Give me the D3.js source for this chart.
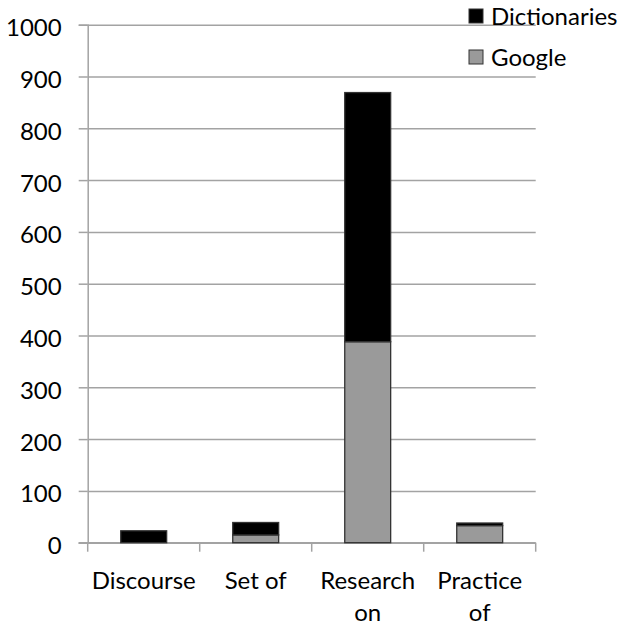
<!DOCTYPE html>
<html>
<head>
<meta charset="utf-8">
<script src="https://cdn.jsdelivr.net/npm/d3@7"></script>
<style>
  html, body { margin: 0; padding: 0; background: #fff; }
  svg { display: block; }
  text { font-family: Lato, "Open Sans", sans-serif; fill: #000; }
</style>
</head>
<body>
<svg id="chart" width="625" height="627"></svg>
<script>
// Stacked bar data: Google at the bottom, Dictionaries on top
const categories = ["Discourse", "Set of", "Research on", "Practice of"];
const google = [0, 15, 388, 33];
const dictionaries = [23, 24, 481, 5];
const seriesKeys = ["Google", "Dictionaries"];
const legendKeys = ["Dictionaries", "Google"];
const yTicks = [0, 100, 200, 300, 400, 500, 600, 700, 800, 900, 1000];

const colors = { Dictionaries: "#000000", Google: "#9a9a9a" };
const fontSize = 24;

const rows = categories.map((c, i) => ({ category: c, Google: google[i], Dictionaries: dictionaries[i] }));

const svg = d3.select("#chart");
const plotLeft = 87.7, plotRight = 535.7, plotTop = 24.7, plotBottom = 542.7;

const y = d3.scaleLinear().domain([0, 1000]).range([plotBottom, plotTop]);
const xSlots = d3.scaleBand().domain(categories).range([plotLeft, plotRight]).padding(0);
const x = d3.scaleBand().domain(categories).range([plotLeft, plotRight])
  .paddingInner(0.59).paddingOuter(0.295);

// Horizontal gridlines
const grid = svg.append("g").attr("transform", `translate(${plotLeft},0)`)
  .call(d3.axisLeft(y).tickValues(yTicks).tickSize(plotLeft - plotRight).tickFormat(""));
grid.select(".domain").remove();
grid.selectAll(".tick line").attr("stroke", "#a3a3a3").attr("stroke-width", 1.5);

// Left axis with short ticks and value labels
const yAxis = svg.append("g").attr("transform", `translate(${plotLeft},0)`)
  .call(d3.axisLeft(y).tickValues(yTicks).tickSize(9).tickPadding(17).tickFormat(d3.format("d")));
yAxis.select(".domain").attr("stroke", "#a3a3a3").attr("stroke-width", 1.5);
yAxis.selectAll(".tick line").attr("stroke", "#a3a3a3").attr("stroke-width", 1.5);
yAxis.selectAll(".tick text")
  .attr("font-size", fontSize).attr("font-family", "Lato")
  .attr("dy", null).attr("y", 11);

// Bottom axis line with ticks at slot boundaries
const bounds = categories.map(c => xSlots(c)).concat([plotRight]);
svg.append("line").attr("x1", plotLeft - 9).attr("x2", plotRight)
  .attr("y1", plotBottom).attr("y2", plotBottom)
  .attr("stroke", "#a3a3a3").attr("stroke-width", 1.5);
svg.append("g").selectAll("line").data(bounds).join("line")
  .attr("x1", d => d).attr("x2", d => d)
  .attr("y1", plotBottom).attr("y2", plotBottom + 9)
  .attr("stroke", "#a3a3a3").attr("stroke-width", 1.5);

// Stacked bars
const stacked = d3.stack().keys(seriesKeys)(rows);
svg.append("g").selectAll("g").data(stacked).join("g")
  .attr("fill", d => colors[d.key])
  .selectAll("rect").data(d => d).join("rect")
  .attr("x", d => x(d.data.category))
  .attr("width", x.bandwidth())
  .attr("y", d => y(d[1]))
  .attr("height", d => Math.max(0, y(d[0]) - y(d[1])))
  .attr("stroke", "#333")
  .attr("stroke-width", 1.3);

// Category labels, wrapped onto two lines when too wide
const labels = svg.append("g").selectAll("text").data(categories).join("text")
  .attr("text-anchor", "middle")
  .attr("font-size", fontSize)
  .attr("x", d => xSlots(d) + xSlots.bandwidth() / 2)
  .attr("y", 589);
labels.each(function (d) {
  const t = d3.select(this);
  const words = d.split(" ");
  const cx = +t.attr("x");
  t.text(d);
  if (this.getComputedTextLength() > xSlots.bandwidth() - 8 && words.length > 1) {
    t.text(null);
    words.forEach((w, i) => {
      t.append("tspan").attr("x", cx).attr("dy", i === 0 ? 0 : 32).text(w);
    });
  }
});

// Legend at top right
const legend = svg.append("g").selectAll("g").data(legendKeys).join("g")
  .attr("transform", (d, i) => `translate(469,${9 + i * 41})`);
legend.append("rect").attr("width", 14).attr("height", 14)
  .attr("fill", d => colors[d]).attr("stroke", "#333").attr("stroke-width", 1);
legend.append("text").attr("x", 22).attr("y", 15.5)
  .attr("font-size", fontSize).text(d => d);
</script>
</body>
</html>
